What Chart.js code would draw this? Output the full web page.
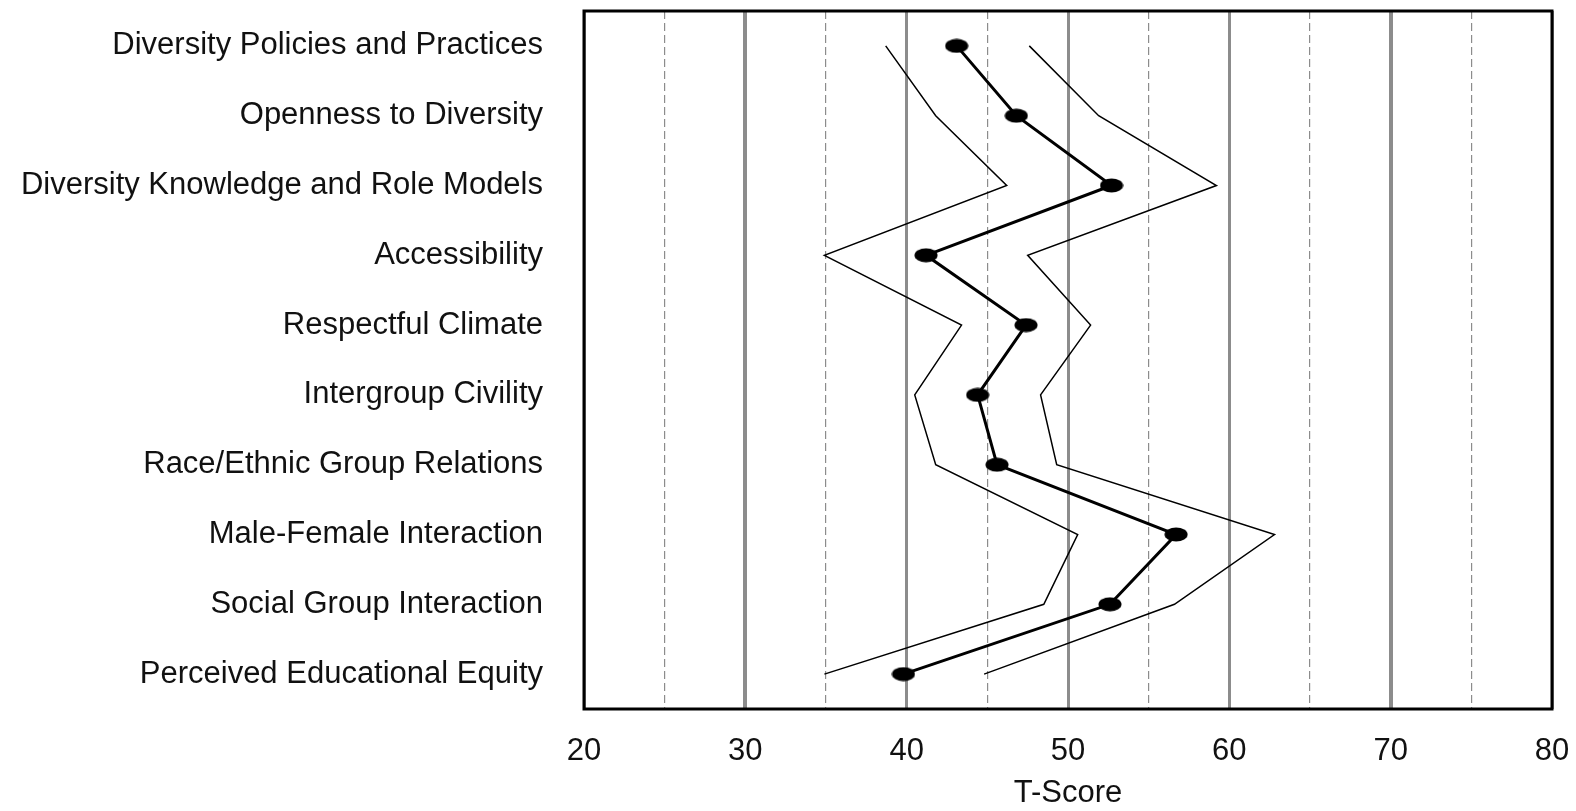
<!DOCTYPE html>
<html>
<head>
<meta charset="utf-8">
<script src="https://cdn.jsdelivr.net/npm/chart.js@4"></script>
<style>
  body { margin: 0; background: #fff; }
</style>
</head>
<body>
<canvas id="myChart" width="1576" height="811"></canvas>
<script>
const scales = [
    "Diversity Policies and Practices",
    "Openness to Diversity",
    "Diversity Knowledge and Role Models",
    "Accessibility",
    "Respectful Climate",
    "Intergroup Civility",
    "Race/Ethnic Group Relations",
    "Male-Female Interaction",
    "Social Group Interaction",
    "Perceived Educational Equity"
];
const meanScores = [43.1, 46.8, 52.7, 41.2, 47.4, 44.4, 45.6, 56.7, 52.6, 39.8];
const lowerBand = [38.7, 41.8, 46.2, 34.9, 43.4, 40.5, 41.8, 50.6, 48.5, 34.9];
const upperBand = [47.6, 51.9, 59.2, 47.5, 51.4, 48.3, 49.3, 62.8, 56.6, 44.8];
const tickLabels = [20, 30, 40, 50, 60, 70, 80];

const FONT = "'Liberation Sans', Arial, sans-serif";

// ellipse marker for the mean line
function makeDot(){
    const c = document.createElement('canvas');
    c.width = 24;
    c.height = 15;
    const g = c.getContext('2d');
    g.fillStyle = '#000';
    g.beginPath();
    g.ellipse(12, 7.5, 11.5, 7, 0, 0, Math.PI * 2);
    g.fill();
    return c;
}
const dot = makeDot();

const frame = {
    id: 'frame',
    afterDraw(chart){
        const a = chart.chartArea;
        const ctx = chart.ctx;
        ctx.save();
        ctx.strokeStyle = '#000';
        ctx.lineWidth = 3;
        ctx.strokeRect(a.left, a.top, a.right - a.left, a.bottom - a.top);
        ctx.restore();
    }
};

new Chart(document.getElementById('myChart'), {
    type: 'line',
    data: {
        labels: scales,
        datasets: [{
            data: meanScores,
            borderColor: '#000',
            borderWidth: 3,
            pointStyle: dot,
            pointRadius: 8,
            tension: 0
        }, {
            data: lowerBand,
            borderColor: '#000',
            borderWidth: 1.5,
            pointRadius: 0,
            tension: 0
        }, {
            data: upperBand,
            borderColor: '#000',
            borderWidth: 1.5,
            pointRadius: 0,
            tension: 0
        }]
    },
    options: {
        indexAxis: 'y',
        responsive: false,
        animation: false,
        layout: { padding: { top: 8, right: 24, bottom: 0, left: 0 } },
        plugins: {
            legend: { display: false },
            tooltip: { enabled: false }
        },
        scales: {
            x: {
                type: 'linear',
                min: 20,
                max: 80,
                afterFit: s => { s.paddingLeft = 0; s.paddingRight = 0; s.height = 102; },
                ticks: {
                    stepSize: 5,
                    padding: 24,
                    color: '#111',
                    font: { family: FONT, size: 31 },
                    maxRotation: 0,
                    autoSkip: false,
                    callback: v => tickLabels.includes(v) ? String(v) : ''
                },
                grid: {
                    drawTicks: false,
                    color: '#8c8c8c',
                    lineWidth: c => (c.tick && c.tick.value % 10 === 0) ? ((c.tick.value === 30 || c.tick.value === 70) ? 4 : 3) : 1.2
                },
                border: {
                    display: false,
                    dash: c => (c.tick && c.tick.value % 10 !== 0) ? [8, 4] : []
                },
                title: {
                    display: true,
                    text: 'T-Score',
                    color: '#111',
                    font: { family: FONT, size: 31 },
                    padding: { top: 0, bottom: -1 }
                }
            },
            y: {
                type: 'category',
                offset: true,
                afterFit: s => { s.width = 584; s.paddingTop = 0; s.paddingBottom = 0; },
                ticks: {
                    padding: 41,
                    color: '#111',
                    font: { family: FONT, size: 31 },
                    autoSkip: false
                },
                grid: { display: false, drawTicks: false },
                border: { display: false }
            }
        }
    },
    plugins: [frame]
});
</script>
</body>
</html>
